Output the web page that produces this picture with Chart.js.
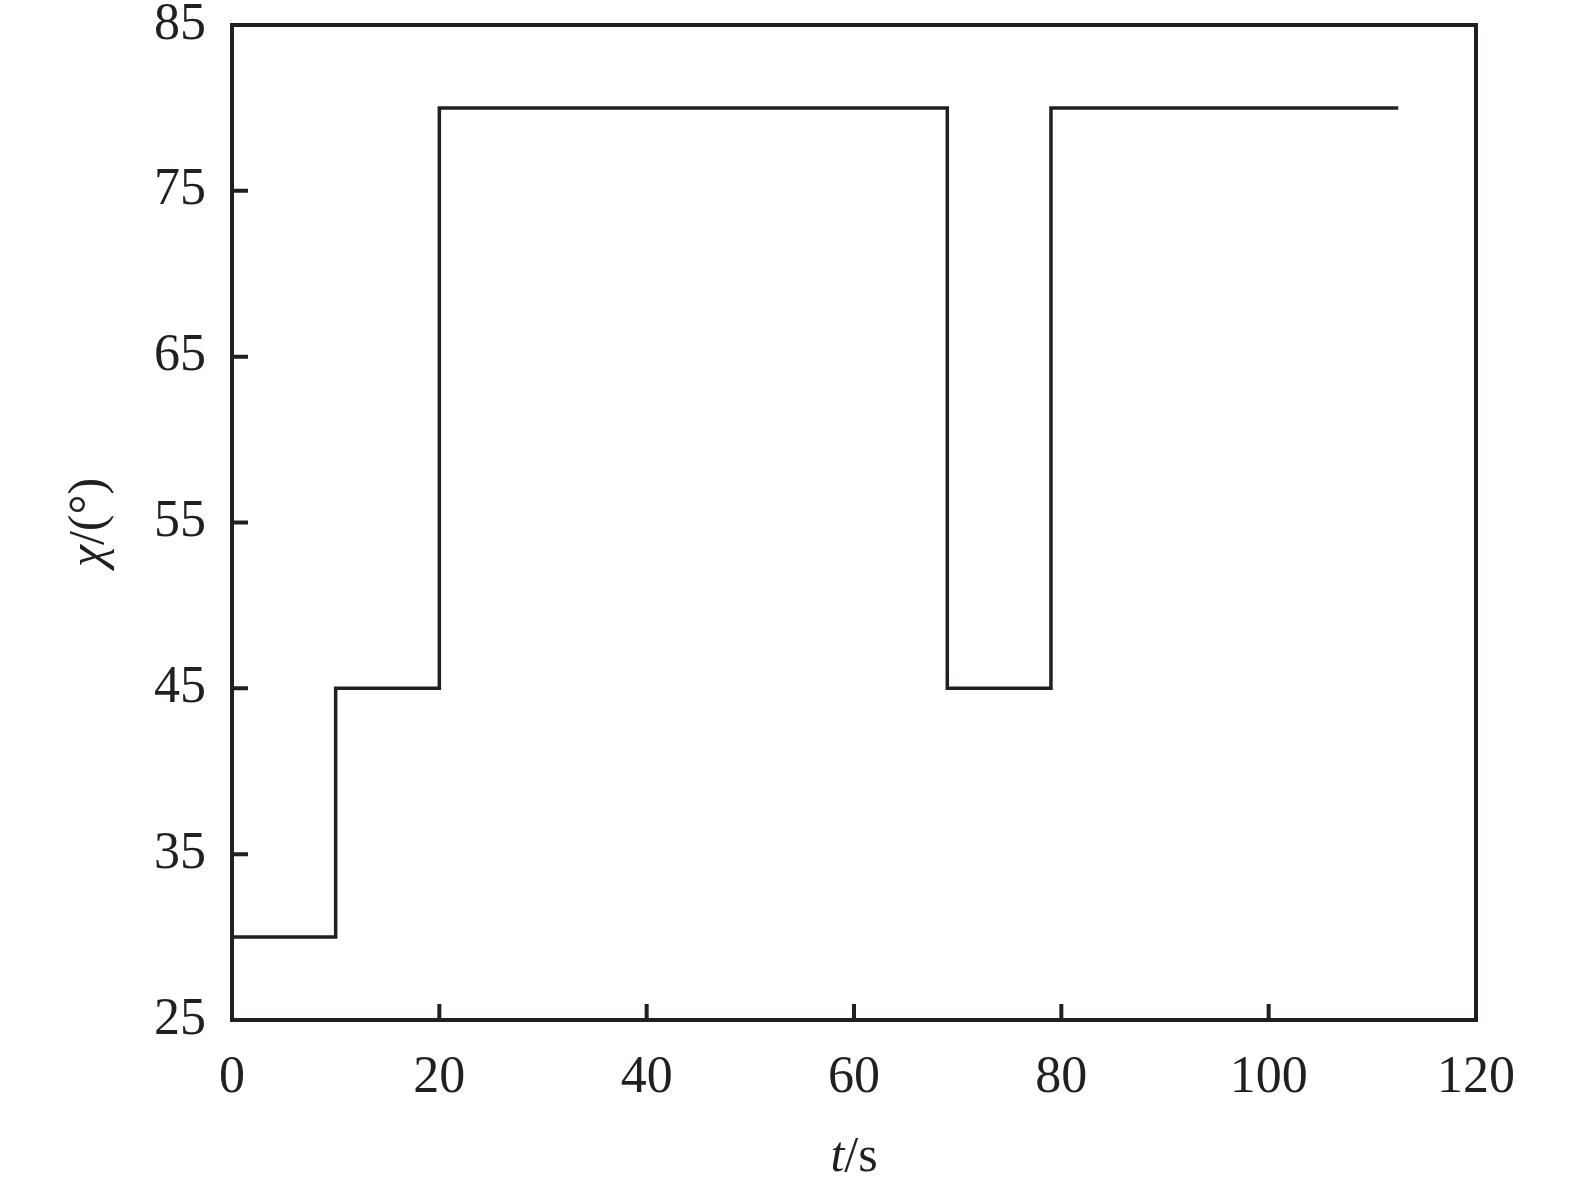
<!DOCTYPE html>
<html>
<head>
<meta charset="utf-8">
<script src="https://cdn.jsdelivr.net/npm/chart.js@4.4.0/dist/chart.umd.min.js"></script>
<style>
  html, body { margin: 0; padding: 0; background: #fff; }
  #wrap { width: 1575px; height: 1187px; }
</style>
</head>
<body>
<div id="wrap"><canvas id="myChart"></canvas></div>
<script>
// step points: value holds from previous time up to this time
var times = [0, 10, 20, 69, 79, 112.5];
var chi = [30, 45, 80, 45, 80, 80];
var xTicks = [0, 20, 40, 60, 80, 100, 120];
var yTicks = [25, 35, 45, 55, 65, 75, 85];

var ink = "#231f20";
var serif = "'Liberation Serif', 'Times New Roman', serif";

var points = times.map(function (t, i) { return { x: t, y: chi[i] }; });

// frame + inward ticks + axis titles
var framePlugin = {
  id: "frame",
  afterDraw: function (chart) {
    var ctx = chart.ctx;
    var a = chart.chartArea;
    var xs = chart.scales.x, ys = chart.scales.y;
    ctx.save();
    ctx.strokeStyle = ink;
    ctx.lineWidth = 4;
    ctx.strokeRect(a.left, a.top, a.right - a.left, a.bottom - a.top);
    ctx.beginPath();
    xTicks.forEach(function (v) {
      var px = xs.getPixelForValue(v);
      ctx.moveTo(px, a.bottom);
      ctx.lineTo(px, a.bottom - 16);
    });
    yTicks.forEach(function (v) {
      var py = ys.getPixelForValue(v);
      ctx.moveTo(a.left, py);
      ctx.lineTo(a.left + 16, py);
    });
    ctx.stroke();

    // x title: italic t + /s
    ctx.fillStyle = ink;
    ctx.textBaseline = "alphabetic";
    ctx.font = "italic 50px " + serif;
    var w1 = ctx.measureText("t").width;
    ctx.font = "50px " + serif;
    var w2 = ctx.measureText("/s").width;
    var cx = (a.left + a.right) / 2;
    var x0 = cx - (w1 + w2) / 2;
    ctx.font = "italic 50px " + serif;
    ctx.textAlign = "left";
    ctx.fillText("t", x0, 1171);
    ctx.font = "50px " + serif;
    ctx.fillText("/s", x0 + w1, 1171);

    // y title rotated: italic chi + /(°)
    ctx.translate(103, (a.top + a.bottom) / 2);
    ctx.rotate(-Math.PI / 2);
    ctx.font = "italic 50px " + serif;
    var v1 = ctx.measureText("χ").width;
    ctx.font = "50px " + serif;
    var v2 = ctx.measureText("/(°)").width;
    var y0 = -(v1 + v2) / 2;
    ctx.font = "italic 50px " + serif;
    ctx.fillText("χ", y0, 0);
    ctx.font = "50px " + serif;
    ctx.fillText("/(°)", y0 + v1, 0);
    ctx.restore();
  }
};

new Chart(document.getElementById("myChart"), {
  type: "line",
  data: {
    datasets: [
      {
        label: "chi",
        data: points,
        stepped: true,
        borderColor: ink,
        borderWidth: 3.5,
        pointRadius: 0,
        fill: false,
      },
    ],
  },
  options: {
    responsive: true,
    maintainAspectRatio: false,
    animation: false,
    layout: { padding: { top: 25, right: 99, left: 0, bottom: 0 } },
    plugins: { legend: { display: false }, tooltip: { enabled: false } },
    scales: {
      x: {
        type: "linear",
        min: 0,
        max: 120,
        afterFit: function (s) {
          s.height = 167;
          s.paddingLeft = 0;
          s.paddingRight = 0;
        },
        ticks: {
          stepSize: 20,
          color: ink,
          padding: 27,
          maxRotation: 0,
          font: { family: serif, size: 52 },
        },
        grid: { display: false, drawTicks: false },
        border: { display: false },
      },
      y: {
        min: 25,
        max: 85,
        afterFit: function (s) {
          s.width = 232;
          s.paddingTop = 0;
          s.paddingBottom = 0;
        },
        ticks: {
          stepSize: 10,
          color: ink,
          padding: 26,
          font: { family: serif, size: 52 },
        },
        grid: { display: false, drawTicks: false },
        border: { display: false },
      },
    },
  },
  plugins: [framePlugin],
});
</script>
</body>
</html>
